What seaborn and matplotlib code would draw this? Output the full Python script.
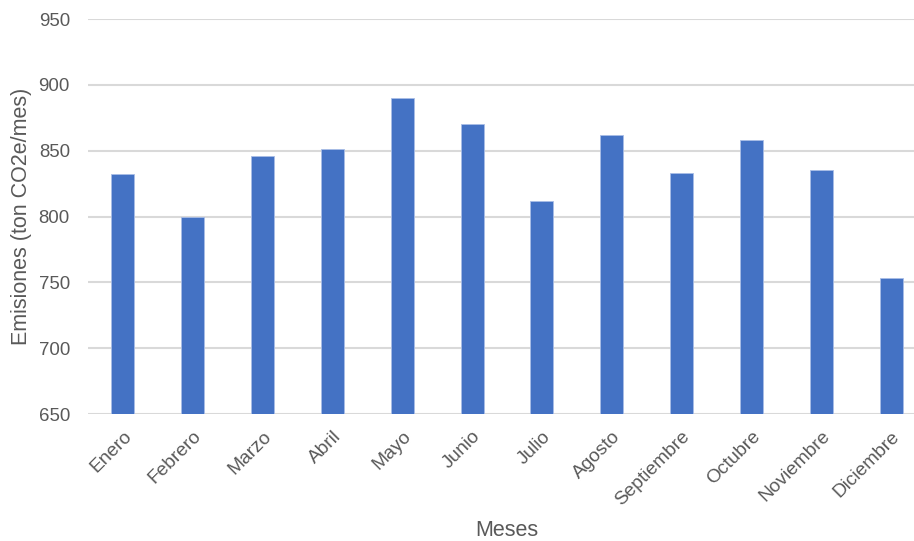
import matplotlib
matplotlib.use("Agg")
import matplotlib.pyplot as plt
import seaborn as sns
import pandas as pd

meses = ["Enero", "Febrero", "Marzo", "Abril", "Mayo", "Junio", "Julio",
         "Agosto", "Septiembre", "Octubre", "Noviembre", "Diciembre"]
emisiones = [832, 800, 846, 851, 890, 870, 812, 862, 833, 858, 835, 753]
y_ticks = [650, 700, 750, 800, 850, 900, 950]

df = pd.DataFrame({"Meses": meses, "Emisiones": emisiones})

sns.set_theme(style="white")
plt.rcParams["font.family"] = ["Liberation Sans", "DejaVu Sans"]

text_color = "#595959"
bar_color = "#4472C4"

fig = plt.figure(figsize=(9.14, 5.41), dpi=100)
ax = fig.add_axes([88 / 914, 127 / 541, 838 / 914, 395 / 541])

sns.barplot(data=df, x="Meses", y="Emisiones", color=bar_color,
            width=0.33, saturation=1, edgecolor="#a9bde6", linewidth=0.6, ax=ax)

ax.set_ylim(650, 950)
ax.set_yticks(y_ticks)
ax.set_xlim(-0.5, len(meses) - 0.5)
ax.yaxis.grid(True, color="#d9d9d9", linewidth=1.5)
ax.set_axisbelow(True)
for s in ax.spines.values():
    s.set_visible(False)

ax.tick_params(axis="y", length=0, labelsize=13.4, colors=text_color, pad=13)
ax.tick_params(axis="x", length=0, labelsize=13.8, colors=text_color, pad=10)
plt.setp(ax.get_xticklabels(), rotation=45, ha="right", rotation_mode="anchor")

ax.set_xlabel("Meses", fontsize=15.5, color=text_color, labelpad=8)
ax.set_ylabel("Emisiones (ton CO2e/mes)", fontsize=15.5, color=text_color, labelpad=5)

fig.savefig("out.png", dpi=100)
